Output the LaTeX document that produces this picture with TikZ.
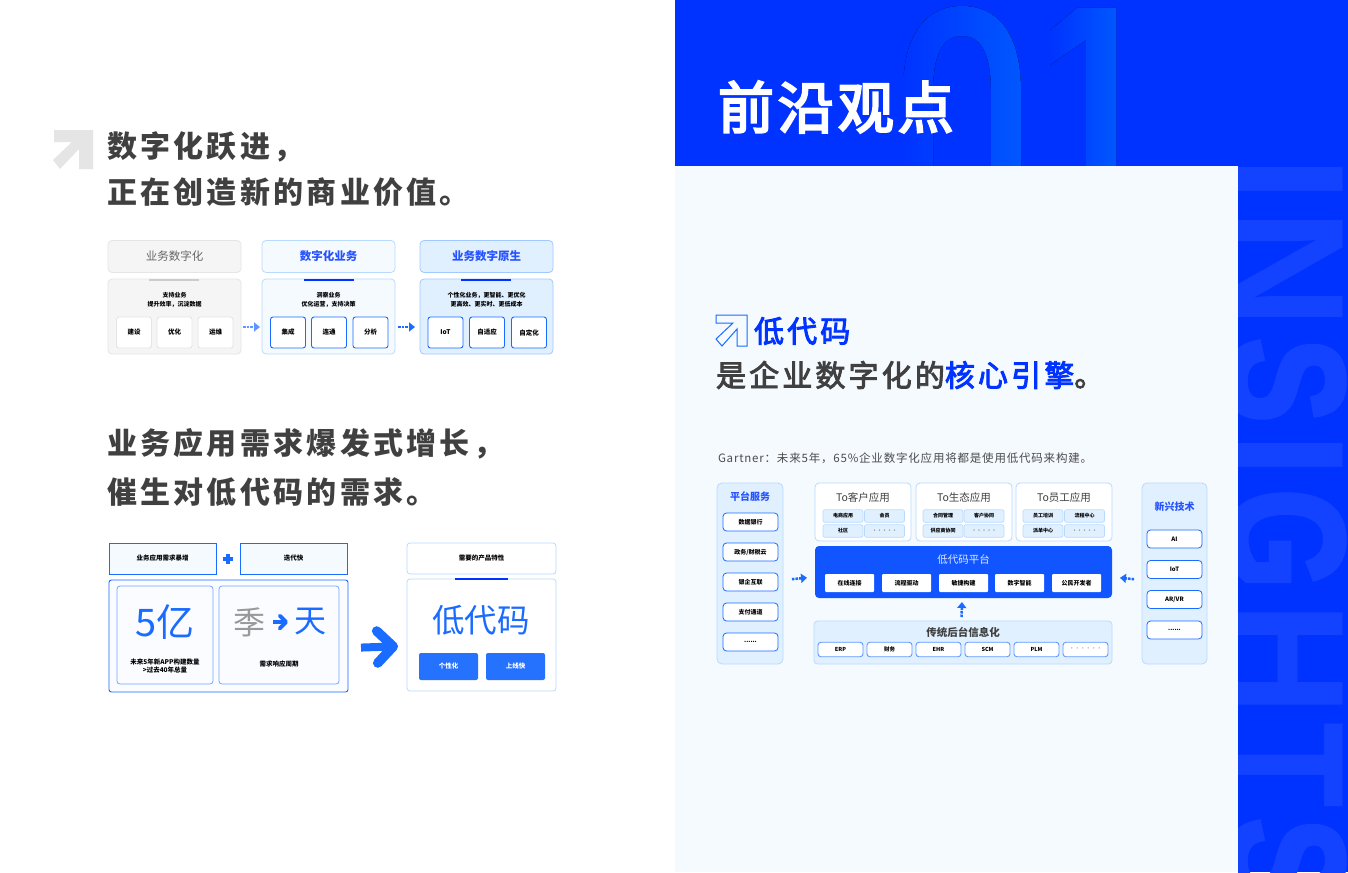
\documentclass[tikz,border=0pt]{standalone}
\usepackage{fontspec}
\usepackage{xcolor}
\usetikzlibrary{arrows.meta}
\setmainfont{Noto Sans CJK SC}
\newfontfamily\cjkwide[LetterSpace=11]{Noto Sans CJK SC}
\newfontfamily\cjkmed[LetterSpace=10.5,FakeBold=3]{Noto Sans CJK SC}
\newfontfamily\cjktitle[LetterSpace=7,FakeBold=4]{Noto Sans CJK SC}
\newfontfamily\cjkair[LetterSpace=7]{Noto Sans CJK SC}
\newfontfamily\bigsans{Liberation Sans}
\newfontfamily\bigheavy[BoldFeatures={FakeBold=3}]{Liberation Sans}
\definecolor{royal}{HTML}{0033FF}
\definecolor{azure}{HTML}{1A6BFF}
\definecolor{glow}{HTML}{0057FF}
\definecolor{sky}{HTML}{B8DAFF}
\definecolor{mist}{HTML}{E1F0FF}
\definecolor{pale}{HTML}{F5FAFF}
\definecolor{ink}{HTML}{404040}
\newcommand{\fs}[1]{\fontsize{#1}{#1}\selectfont}
\newcommand{\sixdots}{{.}{.}{.}{.}{.}{.}}
\begin{document}
\begin{tikzpicture}[x=1pt,y=-1pt,
    every node/.style={inner sep=0pt,outer sep=0pt,align=center},
    headline/.style={anchor=west,text=ink,font=\fs{30}\cjkwide\bfseries},
    tinytext/.style={font=\fontsize{6}{9}\selectfont\bfseries,text=black},
    cellbox/.style={draw=#1,line width=0.9pt,rounded corners=2.5pt,fill=white,minimum width=35pt,minimum height=31pt,font=\fs{6.5}\bfseries},
    head/.style={rounded corners=4pt,line width=0.8pt,minimum width=133pt,minimum height=32pt,font=\fs{11.5}\bfseries},
    bodybox/.style={rounded corners=4pt,line width=0.8pt,minimum width=133pt,minimum height=75pt},
    flatbox/.style={draw=azure,fill=pale,line width=0.8pt,minimum width=107pt,minimum height=31pt,font=\fs{6.5}\bfseries},
    column/.style={draw=sky,fill=mist,line width=0.8pt,rounded corners=5pt,minimum height=181pt},
    pillbox/.style={draw=azure,fill=white,line width=0.8pt,rounded corners=3.5pt,minimum width=55pt,minimum height=18pt,font=\fs{6}\bfseries},
    appbox/.style={draw=sky,fill=white,line width=0.8pt,rounded corners=4pt,minimum width=96pt,minimum height=58pt},
    subbox/.style={draw=sky,fill=mist,line width=0.7pt,rounded corners=2pt,minimum width=40pt,minimum height=12.5pt,font=\fs{5}\bfseries},
    dotarrow/.style={azure,line width=2.5pt,dash pattern=on 2.5pt off 1pt,-{Triangle[length=6pt,width=9pt]}},
    chevron/.style={azure,-{Straight Barb[length=#1*2,width=#1*4,line width=#1*1.2,round=false]}}]
  \useasboundingbox (0,0) rectangle (1348,872);
  \fill[white] (0,0) rectangle (675,872);
  \fill[royal] (675,0) rectangle (1348,872);

  % big letters behind the panels
  \begin{scope}
    \clip (1238,167) rectangle (1348,872);
    \foreach \ch/\y/\sx/\fam in {I/156/1/\bigsans,N/209.5/1/\bigsans,S/338/0.77/\bigheavy,I/432/1/\bigsans,G/489/0.78/\bigheavy,H/602.5/0.95/\bigsans,T/722/0.85/\bigsans,S/818/0.77/\bigheavy} {
      \node[rotate=-90,anchor=base west,text=royal!92!white,font=\fs{165}\fam\bfseries,xscale=\sx] at (1229,\y) {\ch};
    }
  \end{scope}
  \fill[left color=royal,middle color=royal!65!glow,right color=glow]
    (903,166) -- (903,92) .. controls (903,35) and (925,6) .. (962,6)
    .. controls (999,6) and (1021,35) .. (1021,92) -- (1021,166) -- (991,166) -- (991,92)
    .. controls (991,55) and (982,36) .. (962,36) .. controls (942,36) and (933,55) .. (933,92)
    -- (933,166) -- cycle;
  \fill[left color=royal,right color=glow]
    (1116,8) -- (1116,166) -- (1086,166) -- (1086,40) -- (1050,65) -- (1050,30) -- (1077,8) -- cycle;
  \fill[pale] (675,166) rectangle (1238,872);
  \node[anchor=west,text=white,font=\fs{56}\cjktitle] (pagetitle) at (718,107) {前沿观点};

  % left page
  \fill[black!10] (54,130) -- (93,130) -- (93,169) -- (79,169) -- (79,149) -- (60,169) -- (53,160) -- (72,142) -- (54,142) -- cycle;
  \node[headline] (titlea) at (107,147) {数字化跃进，};
  \node[headline] (titleb) at (107,192) {正在创造新的商业价值。};
  \node[headline] (titlec) at (107,444) {业务应用需求爆发式增长，};
  \node[headline] (titled) at (107,492) {催生对低代码的需求。};

  \node[head,draw=black!10,fill=black!4,text=black!60,font=\fs{11.5}] (heada) at (174.5,256.5) {业务数字化};
  \node[head,draw=sky,fill=pale,text=royal!85!white] (headb) at (328.5,256.5) {数字化业务};
  \node[head,draw=sky!85!azure,fill=mist,text=royal!85!white] (headc) at (486.5,256.5) {业务数字原生};
  \node[bodybox,draw=black!10,fill=black!4] (bodya) at (174.5,316.5) {};
  \node[bodybox,draw=sky,fill=pale] (bodyb) at (328.5,316.5) {};
  \node[bodybox,draw=sky!85!azure,fill=mist] (bodyc) at (486.5,316.5) {};
  \fill[black!20] (149,279) rectangle (199,281);
  \fill[royal] (304,279) rectangle (354,281);
  \fill[royal] (461,279) rectangle (511,281);
  \node[tinytext] (texta) at (174.5,299.5) {支持业务\\提升效率，沉淀数据};
  \node[tinytext] (textb) at (328.5,299.5) {洞察业务\\优化运营，支持决策};
  \node[tinytext] (textc) at (486.5,299.5) {个性化业务，更智能、更优化\\更高效、更实时、更低成本};
  \foreach \i/\x/\lab in {1/134/建设,2/174.5/优化,3/215.5/运维} {
    \node[cellbox=black!10] (cella\i) at (\x,332.5) {\lab};
  }
  \foreach \i/\x/\lab in {1/288/集成,2/329/连通,3/370.5/分析} {
    \node[cellbox=azure] (cellb\i) at (\x,332.5) {\lab};
  }
  \foreach \i/\x/\lab in {1/445.5/IoT,2/487/自适应,3/529/自定化} {
    \node[cellbox=azure] (cellc\i) at (\x,332.5) {\lab};
  }
  \draw[dotarrow,azure!70!white,shorten <=2pt,shorten >=2pt] ([yshift=-10.5pt]bodya.east) -- ([yshift=-10.5pt]bodyb.west);
  \draw[dotarrow,shorten <=3pt,shorten >=5pt] ([yshift=-10.5pt]bodyb.east) -- ([yshift=-10.5pt]bodyc.west);

  \node[flatbox] (needa) at (162.5,558.5) {业务应用需求暴增};
  \node[flatbox] (needb) at (293.5,558.5) {迭代快};
  \draw[azure,line width=4pt] (223,559) -- (233,559) (228,554) -- (228,564);
  \node[draw=azure,fill=pale!50!white,line width=0.9pt,rounded corners=2.5pt,minimum width=239pt,minimum height=112pt] (bigbox) at (228.5,636) {};
  \node[draw=azure!60!white,fill=pale!50!white,line width=0.8pt,rounded corners=3pt,minimum width=96pt,minimum height=98pt] (cardl) at (165,635) {};
  \node[draw=azure!60!white,fill=pale!50!white,line width=0.8pt,rounded corners=3pt,minimum width=120pt,minimum height=98pt] (cardr) at (279,635) {};
  \node[text=azure,font=\fs{38}] (fivey) at (165,622) {5亿};
  \node[tinytext,font=\fontsize{6.5}{8.5}\selectfont\bfseries] (fivecap) at (165,666) {未来5年新APP构建数量\\>过去40年总量};
  \node[text=black!40,font=\fs{32}] (season) at (249,622) {季};
  \node[text=azure,font=\fs{32}] (day) at (310,622) {天};
  \draw[chevron=3.2pt,line width=3.2pt,shorten <=8pt,shorten >=6pt] (season) -- (day);
  \node[tinytext,font=\fs{6.5}\bfseries] (daycap) at (279,664) {需求响应周期};

  \node[draw=sky,fill=white,line width=0.8pt,rounded corners=3pt,minimum width=149pt,minimum height=31pt,font=\fs{6.5}\bfseries] (prodhead) at (481.5,558.5) {需要的产品特性};
  \node[draw=sky,fill=white,line width=0.8pt,rounded corners=3pt,minimum width=149pt,minimum height=112pt] (prodbody) at (481.5,635) {};
  \fill[royal] (455,578) rectangle (508,580);
  \node[text=azure,font=\fs{32.5}] (lowcode) at (481,620) {低代码};
  \node[fill=azure!95!white,text=white,rounded corners=2pt,minimum width=59pt,minimum height=27pt,font=\fs{6.5}\bfseries] (btna) at (448.5,666.5) {个性化};
  \node[fill=azure!95!white,text=white,rounded corners=2pt,minimum width=59pt,minimum height=27pt,font=\fs{6.5}\bfseries] (btnb) at (515.5,666.5) {上线快};
  \draw[chevron=8pt,line width=8pt,shorten <=13pt,shorten >=9pt] ([yshift=-12pt]bigbox.east) -- ([yshift=-11pt]prodbody.west);

  % right panel
  \draw[azure,line width=1pt,fill=pale] (716,315) -- (747,315) -- (747,346) -- (737,346) -- (737,329) -- (722,346) -- (716,339) -- (733,323) -- (716,323) -- cycle;
  \node[anchor=west,text=royal,font=\fs{30}\cjkmed] (coretitle) at (754,331) {低代码};
  \node[anchor=west,text=ink,font=\fs{30}\cjkmed] (coreline) at (716,375) {是企业数字化的\textcolor{royal}{核心引擎}。};
  \node[anchor=west,text=black!70,font=\fs{11.5}\cjkair] (gartner) at (718,458) {Gartner：未来5年，65\%企业数字化应用将都是使用低代码来构建。};

  \node[column,minimum width=66pt] (platcol) at (750,573.5) {};
  \node[text=royal!85!white,font=\fs{10}\bfseries] (plattitle) at (750,497) {平台服务};
  \foreach \i/\y/\lab in {1/522/数据银行,2/552/{政务/财税云},3/582/银企互联,4/612/支付通道,5/642/\sixdots} {
    \node[pillbox] (plat\i) at (750.5,\y) {\lab};
  }
  \node[column,minimum width=65pt] (techcol) at (1174.5,573.5) {};
  \node[text=royal!85!white,font=\fs{10}\bfseries] (techtitle) at (1174.5,507) {新兴技术};
  \foreach \i/\y/\lab in {1/539/AI,2/569.5/IoT,3/599.5/{AR/VR},4/630/\sixdots} {
    \node[pillbox] (tech\i) at (1174.5,\y) {\lab};
  }

  \node[appbox] (appa) at (863,512) {};
  \node[appbox] (appb) at (964,512) {};
  \node[appbox] (appc) at (1064,512) {};
  \node[text=ink,font=\fs{10.5}] (appat) at (863,497) {To客户应用};
  \node[text=ink,font=\fs{10.5}] (appbt) at (964,497) {To生态应用};
  \node[text=ink,font=\fs{10.5}] (appct) at (1064,497) {To员工应用};
  \foreach \n/\x/\y/\lab in {a/843/516/电商应用,b/884.5/516/会员,c/843/531/社区,
    e/943/516/合同管理,f/984/516/客户协同,g/943/531/供应商协同,
    i/1043/516/员工培训,j/1084.5/516/流程中心,k/1043/531/派单中心} {
    \node[subbox] (sub\n) at (\x,\y) {\lab};
  }
  \foreach \n/\x in {d/884.5,h/984,l/1084.5} {
    \node[subbox,text=black!45] (sub\n) at (\x,531) {·····};
  }

  \node[fill=azure!60!royal,rounded corners=4pt,minimum width=297pt,minimum height=52pt] (platform) at (963.5,572) {};
  \node[text=white!85!azure,font=\fs{10.5}] (platformt) at (963.5,560) {低代码平台};
  \foreach \i/\x/\lab in {1/849.5/在线连接,2/906.5/流程驱动,3/963.5/敏捷构建,4/1019.5/数字智能,5/1076.5/公民开发者} {
    \node[fill=white,rounded corners=1pt,minimum width=49pt,minimum height=18pt,font=\fs{6}\bfseries] (core\i) at (\x,583) {\lab};
  }

  \node[draw=sky,fill=mist,line width=0.8pt,rounded corners=3.5pt,minimum width=298pt,minimum height=43pt] (legacy) at (963,642.5) {};
  \node[text=ink,font=\fs{10.5}\bfseries] (legacyt) at (963,632) {传统后台信息化};
  \foreach \i/\x/\lab in {1/840.5/ERP,2/889.5/财务,3/938.5/EHR,4/987.5/SCM,5/1036.5/PLM} {
    \node[draw=azure!70!white,fill=white,line width=0.9pt,rounded corners=3pt,minimum width=45pt,minimum height=14.5pt,font=\fs{5.5}\bfseries] (erp\i) at (\x,649.5) {\lab};
  }
  \node[draw=azure!70!white,fill=white,line width=0.9pt,rounded corners=3pt,minimum width=45pt,minimum height=14.5pt,text=black!45,font=\fs{5.5}] (erp6) at (1085.5,649.5) {······};

  \draw[dotarrow,shorten <=9pt,shorten >=8pt] ([yshift=-6.5pt]platcol.east) -- ([yshift=-5pt]platform.west);
  \draw[dotarrow,shorten <=8pt,shorten >=8pt] ([yshift=-6.5pt]techcol.west) -- ([yshift=-5pt]platform.east);
  \draw[dotarrow,shorten <=4pt,shorten >=4pt] ([xshift=-1.5pt]legacy.north) -- ([xshift=-1.5pt]platform.south);
\end{tikzpicture}
\end{document}
